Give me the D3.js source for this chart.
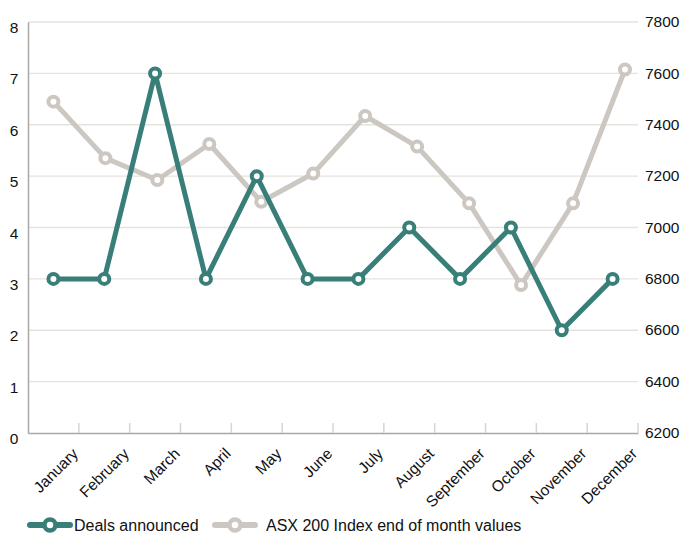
<!DOCTYPE html>
<html>
<head>
<meta charset="utf-8">
<script src="https://cdn.jsdelivr.net/npm/d3@7"></script>
<style>
  html, body { margin: 0; padding: 0; background: #fff; }
  svg { display: block; font-family: "Liberation Sans", Arial, sans-serif; }
</style>
</head>
<body>
<svg id="chart" width="681" height="533"></svg>
<script>
const months = ["January","February","March","April","May","June","July","August","September","October","November","December"];
const deals = [3,3,7,3,5,3,3,4,3,4,2,3];
const asx = [7490,7270,7185,7325,7100,7210,7434,7315,7094,6776,7094,7615];
const leftTicks = [0,1,2,3,4,5,6,7,8];
const rightTicks = [6200,6400,6600,6800,7000,7200,7400,7600,7800];
const seriesNames = ["Deals announced","ASX 200 Index end of month values"];

const teal = "#387e79";
const grey = "#cdc7c2";

const W = 681, H = 533;
const m = {top: 22, right: 43, bottom: 100, left: 28};
const iw = W - m.left - m.right, ih = H - m.top - m.bottom;

const svg = d3.select("#chart");
const g = svg.append("g").attr("transform", `translate(${m.left},${m.top})`);

const x = d3.scaleBand().domain(months).range([0, iw]);
const xc = d => x(d) + x.bandwidth() / 2;
// ASX series plotted on a slightly wider point scale (as in the reference)
const x2 = d3.scalePoint().domain(months).range([x.bandwidth() / 2, iw - 13]);
const yL = d3.scaleLinear().domain([0, 8]).range([ih, 0]);
const yR = d3.scaleLinear().domain([6200, 7800]).range([ih, 0]);

// grid
g.append("g").selectAll("line").data(leftTicks.slice(1)).join("line")
  .attr("x1", 0).attr("x2", iw)
  .attr("y1", d => yL(d)).attr("y2", d => yL(d))
  .attr("stroke", "#e6e3de").attr("stroke-width", 1.3);

// left axis
const ax = d3.axisLeft(yL).tickValues(leftTicks).tickSize(0).tickPadding(10).tickFormat(d3.format("d"));
const gl = g.append("g").call(ax);
gl.select(".domain").attr("stroke", "#a8a8a8").attr("stroke-width", 1.5);
gl.selectAll("text").attr("font-size", 15.5).attr("fill", "#111").attr("dy", "0.68em")
  .attr("text-anchor", "middle").attr("x", -14);

// right axis
const ar = d3.axisRight(yR).tickValues(rightTicks).tickSize(0).tickPadding(7).tickFormat(d3.format("d"));
const gr = g.append("g").attr("transform", `translate(${iw},0)`).call(ar);
gr.select(".domain").remove();
gr.selectAll("text").attr("font-size", 15.5).attr("fill", "#111").attr("dy", "0.3em");

// bottom axis
const ab = d3.axisBottom(x).tickSize(0).tickFormat("");
const gb = g.append("g").attr("transform", `translate(0,${ih})`).call(ab);
gb.select(".domain").attr("stroke", "#a8a8a8").attr("stroke-width", 1.5);
gb.selectAll(".tick").remove();
// boundary ticks
const bounds = months.slice(1).map(d => x(d)).concat([iw]);
g.append("g").selectAll("line").data(bounds).join("line")
  .attr("x1", d => d).attr("x2", d => d)
  .attr("y1", ih - 10).attr("y2", ih)
  .attr("stroke", "#d8d5d0").attr("stroke-width", 1.5);

// x labels
g.append("g").selectAll("text").data(months).join("text")
  .attr("transform", d => `translate(${xc(d) + 18},${ih + 14}) rotate(-45)`)
  .attr("text-anchor", "end").attr("dy", "0.7em")
  .attr("font-size", 15.5).attr("fill", "#111")
  .text(d => d);

// lines
const lineA = d3.line().x((d, i) => x2(months[i])).y(d => yR(d));
const lineD = d3.line().x((d, i) => xc(months[i])).y(d => yL(d));

g.append("path").datum(asx).attr("d", lineA)
  .attr("fill", "none").attr("stroke", grey).attr("stroke-width", 5).attr("stroke-linejoin", "round");
g.append("g").selectAll("circle").data(asx).join("circle")
  .attr("cx", (d, i) => x2(months[i])).attr("cy", d => yR(d)).attr("r", 5)
  .attr("fill", "#fff").attr("stroke", grey).attr("stroke-width", 4);

g.append("path").datum(deals).attr("d", lineD)
  .attr("fill", "none").attr("stroke", teal).attr("stroke-width", 5).attr("stroke-linejoin", "round");
g.append("g").selectAll("circle").data(deals).join("circle")
  .attr("cx", (d, i) => xc(months[i])).attr("cy", d => yL(d)).attr("r", 5)
  .attr("fill", "#fff").attr("stroke", teal).attr("stroke-width", 4);

// legend
const legend = svg.append("g").attr("transform", "translate(0,525)");
const items = [
  {name: seriesNames[0], color: teal, x0: 30, x1: 70, tx: 74},
  {name: seriesNames[1], color: grey, x0: 215, x1: 255, tx: 266}
];
items.forEach(it => {
  legend.append("line").attr("x1", it.x0).attr("x2", it.x1).attr("y1", 0).attr("y2", 0)
    .attr("stroke", it.color).attr("stroke-width", 6).attr("stroke-linecap", "round");
  legend.append("circle").attr("cx", (it.x0 + it.x1) / 2).attr("cy", 0).attr("r", 5.5)
    .attr("fill", "#fff").attr("stroke", it.color).attr("stroke-width", 4.5);
  legend.append("text").attr("x", it.tx).attr("y", 0).attr("dy", "0.38em")
    .attr("font-size", 16).attr("fill", "#111").text(it.name);
});
</script>
</body>
</html>
